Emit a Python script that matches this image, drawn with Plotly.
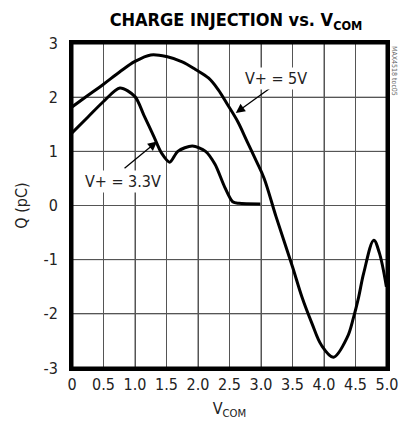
import plotly.graph_objects as go

# Data
v5_x = [0.0, 0.25, 0.5, 0.75, 1.0, 1.25, 1.5, 1.75, 1.96, 2.17, 2.32, 2.47, 2.63, 2.78, 2.93, 3.05,
        3.24, 3.5, 3.65, 3.81, 3.96, 4.15, 4.37, 4.47, 4.55, 4.63, 4.79, 4.88, 4.99]
v5_y = [1.82, 2.03, 2.24, 2.46, 2.66, 2.78, 2.75, 2.65, 2.51, 2.35, 2.14, 1.86, 1.55, 1.18, 0.81, 0.50,
        -0.21, -1.13, -1.69, -2.18, -2.58, -2.80, -2.43, -2.06, -1.69, -1.25, -0.64, -0.88, -1.5]

v33_x = [0.0, 0.25, 0.5, 0.76, 1.0, 1.14, 1.30, 1.42, 1.55, 1.68, 1.91, 2.12, 2.27, 2.42, 2.55, 2.65, 2.99]
v33_y = [1.34, 1.63, 1.92, 2.17, 2.01, 1.67, 1.27, 0.97, 0.80, 1.0, 1.10, 1.0, 0.76, 0.35, 0.07, 0.04, 0.03]

x_ticks = [0, 0.5, 1.0, 1.5, 2.0, 2.5, 3.0, 3.5, 4.0, 4.5, 5.0]
x_labels = ["0", "0.5", "1.0", "1.5", "2.0", "2.5", "3.0", "3.5", "4.0", "4.5", "5.0"]
y_ticks = [-3, -2, -1, 0, 1, 2, 3]
y_labels = ["-3", "-2", "-1", "0", "1", "2", "3"]

FONT = "DejaVu Sans Condensed, Liberation Sans, sans-serif"
GRID = "#555"

fig = go.Figure()
fig.add_trace(go.Scatter(x=v5_x, y=v5_y, mode="lines",
                         line=dict(color="black", width=3, shape="spline", smoothing=1.0),
                         showlegend=False, hoverinfo="skip"))
fig.add_trace(go.Scatter(x=v33_x, y=v33_y, mode="lines",
                         line=dict(color="black", width=3, shape="spline", smoothing=0.8),
                         showlegend=False, hoverinfo="skip"))

# grid lines as shapes (from tick values) and frame
shapes = []
for xv in x_ticks[1:-1]:
    shapes.append(dict(type="line", xref="x", yref="paper", x0=xv, x1=xv, y0=0, y1=1,
                       line=dict(color=GRID, width=1), layer="below"))
for yv in y_ticks[1:-1]:
    shapes.append(dict(type="line", xref="paper", yref="y", x0=0, x1=1, y0=yv, y1=yv,
                       line=dict(color=GRID, width=1), layer="below"))
shapes.append(dict(type="rect", xref="paper", yref="paper", x0=0, x1=1, y0=0, y1=1,
                   line=dict(color="black", width=3), layer="above"))
fig.update_layout(shapes=shapes)

# arrows
fig.add_annotation(x=2.60, y=1.71, ax=36, ay=-26, text="", showarrow=True,
                   arrowhead=2, arrowsize=1.4, arrowwidth=1.3, arrowcolor="black")
fig.add_annotation(x=1.35, y=1.18, ax=-34, ay=28, text="", showarrow=True,
                   arrowhead=2, arrowsize=1.4, arrowwidth=1.3, arrowcolor="black")

fig.add_annotation(x=3.24, y=2.34, text="V+ = 5V", showarrow=False,
                   font=dict(family=FONT, size=16, color="#222"), bgcolor="white")
fig.add_annotation(x=0.81, y=0.45, text="V+ = 3.3V", showarrow=False,
                   font=dict(family=FONT, size=16, color="#222"), bgcolor="white")

fig.add_annotation(xref="paper", yref="paper", x=1.0, y=1.0, xshift=1, yshift=-1,
                   xanchor="left", yanchor="top", text="MAX4518 toc05", textangle=90,
                   showarrow=False, font=dict(family=FONT, size=7, color="#666"))

fig.update_layout(
    width=400, height=422,
    margin=dict(l=64, r=10, t=35, b=62),
    paper_bgcolor="white", plot_bgcolor="white",
    font=dict(family=FONT, size=16, color="#222"),
    title=dict(text="<b>CHARGE INJECTION vs. V<sub>COM</sub></b>", x=0.57, xanchor="center",
               y=0.972, yanchor="middle", font=dict(family=FONT, size=18, color="black")),
    xaxis=dict(range=[0, 5], tickvals=x_ticks, ticktext=x_labels, showgrid=True,
               gridcolor=GRID, gridwidth=1, zeroline=False, showline=True,
               linecolor="black", linewidth=3, mirror=True, ticks="",
               title=dict(text="V<sub>COM</sub>", standoff=10, font=dict(size=16))),
    yaxis=dict(range=[-3, 3], tickvals=y_ticks, ticktext=y_labels, showgrid=True,
               gridcolor=GRID, gridwidth=1, zeroline=False, showline=True,
               linecolor="black", linewidth=3, mirror=True,
               ticks="outside", ticklen=8, tickcolor="rgba(0,0,0,0)",
               title=dict(text="Q (pC)", standoff=12, font=dict(size=16))),
)

fig.write_html("out.html")
